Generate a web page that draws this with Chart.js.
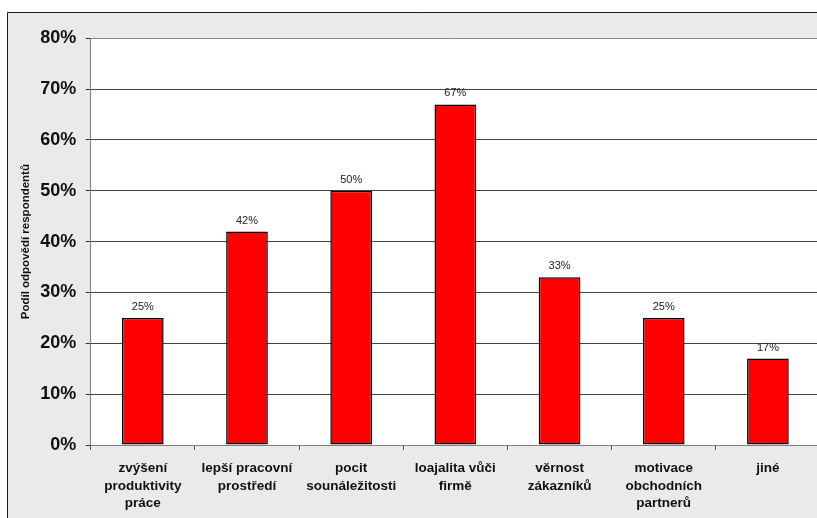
<!DOCTYPE html>
<html>
<head>
<meta charset="utf-8">
<script src="https://cdn.jsdelivr.net/npm/chart.js@4/dist/chart.umd.min.js"></script>
<style>
  html, body { margin: 0; padding: 0; background: #ffffff; }
  #wrap { width: 817px; height: 518px; overflow: hidden; position: relative; }
  #chart { display: block; }
</style>
</head>
<body>
<div id="wrap">
  <canvas id="chart" width="830" height="518"></canvas>
</div>
<script>
// data
const categories = [
  ["zvýšení", "produktivity", "práce"],
  ["lepší pracovní", "prostředí"],
  ["pocit", "sounáležitosti"],
  ["loajalita vůči", "firmě"],
  ["věrnost", "zákazníků"],
  ["motivace", "obchodních", "partnerů"],
  ["jiné"]
];
const shares = [0.25, 0.42, 0.50, 0.67, 0.33, 0.25, 0.17];
const yTicks = [0, 0.1, 0.2, 0.3, 0.4, 0.5, 0.6, 0.7, 0.8];
const yTitle = "Podíl odpovědí respondentů";

const FONT = "'Liberation Sans', Arial, sans-serif";

// grey panel behind the chart, white plot area
const panelPlugin = {
  id: "panel",
  beforeDraw(chart) {
    const { ctx, chartArea } = chart;
    ctx.save();
    ctx.fillStyle = "#eaeaea";
    ctx.fillRect(7, 12, chart.width, chart.height);
    ctx.strokeStyle = "#1a1a1a";
    ctx.lineWidth = 1;
    ctx.beginPath();
    ctx.moveTo(7.5, chart.height);
    ctx.lineTo(7.5, 12.5);
    ctx.lineTo(chart.width, 12.5);
    ctx.stroke();
    ctx.fillStyle = "#ffffff";
    ctx.fillRect(chartArea.left, chartArea.top, chartArea.right - chartArea.left, chartArea.bottom - chartArea.top);
    ctx.restore();
  }
};

// value labels above the bars
const valueLabels = {
  id: "valueLabels",
  afterDatasetsDraw(chart) {
    const { ctx } = chart;
    const meta = chart.getDatasetMeta(0);
    ctx.save();
    ctx.font = "11px " + FONT;
    ctx.fillStyle = "#222";
    ctx.textAlign = "center";
    ctx.textBaseline = "middle";
    meta.data.forEach((bar, i) => {
      ctx.fillText(Math.round(shares[i] * 100) + "%", bar.x, bar.y - 11);
    });
    ctx.restore();
  }
};

new Chart(document.getElementById("chart"), {
  type: "bar",
  data: {
    labels: categories,
    datasets: [{
      data: shares,
      backgroundColor: "#ff0000",
      borderColor: "#000000",
      borderWidth: 1.5,
      borderSkipped: false,
      barPercentage: 0.4,
      categoryPercentage: 1
    }]
  },
  options: {
    responsive: false,
    animation: false,
    events: [],
    layout: { padding: { left: 7, top: 38.3, right: 10, bottom: 0 } },
    plugins: {
      legend: { display: false },
      tooltip: { enabled: false }
    },
    scales: {
      x: {
        grid: {
          offset: true,
          drawOnChartArea: false,
          drawTicks: true,
          tickLength: 5,
          tickColor: "#555"
        },
        border: { color: "#808080", width: 1 },
        ticks: {
          color: "#111",
          font: { family: FONT, size: 13.5, weight: "bold", lineHeight: 1.3 },
          padding: 9.5,
          maxRotation: 0,
          autoSkip: false
        },
        afterFit(scale) { scale.height = 73; }
      },
      y: {
        min: 0,
        max: 0.8,
        afterBuildTicks(scale) { scale.ticks = yTicks.map(v => ({ value: v })); },
        grid: {
          color: ctx => (ctx.tick && ctx.tick.value === 0.8 ? "#888" : "#444"),
          tickColor: "#333",
          tickLength: 5,
          lineWidth: 1
        },
        border: { color: "#808080", width: 1 },
        ticks: {
          color: "#111",
          font: { family: FONT, size: 18, weight: "bold" },
          padding: 9.5,
          callback: v => Math.round(v * 100) + "%"
        },
        title: {
          display: true,
          text: yTitle,
          color: "#111",
          font: { family: FONT, size: 11.5, weight: "bold" },
          padding: { top: 11.5, bottom: 0 }
        },
        afterFit(scale) { scale.width = 83.7; }
      }
    }
  },
  plugins: [panelPlugin, valueLabels]
});
</script>
</body>
</html>
